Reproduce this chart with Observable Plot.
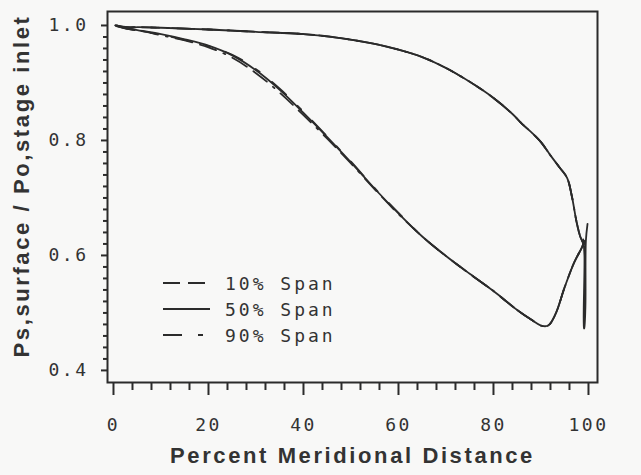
<!DOCTYPE html>
<html>
<head>
<meta charset="utf-8">
<script src="https://cdn.jsdelivr.net/npm/d3@7"></script>
<script src="https://cdn.jsdelivr.net/npm/@observablehq/plot@0.6"></script>
<style>
  html, body { margin: 0; padding: 0; background: #f8f8f7; }
  #wrap { position: relative; width: 641px; height: 475px; overflow: hidden; }
  .plot [aria-label$="tick label"] { font-family: "DejaVu Sans Mono", monospace; font-size: 18px; letter-spacing: 2.5px; fill: #333; }
  .plot [aria-label$="-axis tick"] { stroke-width: 2px; }
  #legend { position: absolute; left: 162px; top: 270px; font-family: "DejaVu Sans Mono", monospace; font-size: 18px; letter-spacing: 3px; color: #333; }
  #legend .row { display: flex; align-items: center; height: 26px; }
  #legend svg { width: 50px; height: 10px; margin-right: 13px; }
</style>
</head>
<body>
<div id="wrap"></div>
<script>
// ---------- data ----------
const spans = ["10% Span", "50% Span", "90% Span"];

// 50% span, suction surface
const sucX50 = [0.4, 2, 5, 10, 15, 20, 25, 30, 35, 40, 45, 50, 55, 60, 65, 70, 75, 80, 85, 88, 90, 91.5, 93, 95, 97, 98.5, 99.2];
const sucY50 = [1.0, 0.996, 0.992, 0.985, 0.976, 0.965, 0.948, 0.922, 0.888, 0.848, 0.806, 0.762, 0.716, 0.673, 0.633, 0.599, 0.568, 0.538, 0.505, 0.488, 0.478, 0.478, 0.497, 0.545, 0.588, 0.612, 0.625];
// 50% span, pressure surface
const preX50 = [0.4, 3, 5, 10, 20, 30, 40, 47, 55, 60, 65, 70, 75, 80, 84, 86, 88, 90, 92, 94, 95.5, 96.5, 97.5, 98.3, 99.0];
const preY50 = [1.0, 0.996, 0.997, 0.996, 0.993, 0.989, 0.985, 0.979, 0.968, 0.958, 0.945, 0.926, 0.902, 0.874, 0.846, 0.829, 0.814, 0.797, 0.774, 0.752, 0.735, 0.703, 0.658, 0.632, 0.620];

// 10% span (nearly coincident with 50%)
const sucX10 = [0.8, 3, 6, 10, 15, 20, 25, 30, 35, 40, 45, 50, 55, 60, 65, 70, 75, 80, 85, 88, 90, 91.5, 93, 95, 97, 98.5, 99.2];
const sucY10 = [1.0, 0.994, 0.990, 0.983, 0.974, 0.962, 0.944, 0.917, 0.883, 0.844, 0.803, 0.760, 0.715, 0.672, 0.633, 0.599, 0.568, 0.538, 0.505, 0.488, 0.478, 0.478, 0.497, 0.545, 0.588, 0.612, 0.625];
const preX10 = [0.8, 3, 5, 10, 20, 30, 40, 47, 55, 60, 65, 70, 75, 80, 84, 86, 88, 90, 92, 94, 95.5, 96.5, 97.5, 98.3, 99.0];
const preY10 = [0.999, 0.997, 0.997, 0.996, 0.993, 0.989, 0.985, 0.979, 0.968, 0.958, 0.945, 0.926, 0.902, 0.874, 0.846, 0.829, 0.814, 0.797, 0.774, 0.752, 0.735, 0.703, 0.658, 0.632, 0.620];

// 90% span (nearly coincident with 50%)
const sucX90 = [0.6, 2.5, 5, 10, 15, 20, 25, 30, 35, 40, 45, 50, 55, 60, 65, 70, 75, 80, 85, 88, 90, 91.5, 93, 95, 97, 98.5, 99.2];
const sucY90 = [0.999, 0.995, 0.991, 0.984, 0.975, 0.964, 0.949, 0.924, 0.890, 0.850, 0.807, 0.763, 0.717, 0.674, 0.633, 0.599, 0.568, 0.538, 0.505, 0.488, 0.478, 0.478, 0.497, 0.545, 0.588, 0.612, 0.625];
const preX90 = [0.6, 3, 5, 10, 20, 30, 40, 47, 55, 60, 65, 70, 75, 80, 84, 86, 88, 90, 92, 94, 95.5, 96.5, 97.5, 98.3, 99.0];
const preY90 = [1.0, 0.997, 0.997, 0.996, 0.993, 0.989, 0.985, 0.979, 0.968, 0.958, 0.945, 0.926, 0.902, 0.874, 0.846, 0.829, 0.814, 0.797, 0.774, 0.752, 0.735, 0.703, 0.658, 0.632, 0.620];

// trailing-edge spike
const spikeX = [98.9, 99.15, 99.05, 99.1, 99.35, 99.45, 99.8];
const spikeY = [0.628, 0.600, 0.473, 0.473, 0.510, 0.625, 0.655];

// ticks
const xMajor = [0, 20, 40, 60, 80, 100];
const xMinor = [4, 8, 12, 16, 24, 28, 32, 36, 44, 48, 52, 56, 64, 68, 72, 76, 84, 88, 92, 96];
const yMajor = [0.4, 0.6, 0.8, 1.0];
const yMinor = [0.42, 0.44, 0.46, 0.48, 0.50, 0.52, 0.54, 0.56, 0.58, 0.62, 0.64, 0.66, 0.68, 0.70, 0.72, 0.74, 0.76, 0.78, 0.82, 0.84, 0.86, 0.88, 0.90, 0.92, 0.94, 0.96, 0.98];

const xTitle = "Percent Meridional Distance";
const yTitle = "Ps,surface / Po,stage inlet";

// ---------- build table ----------
function pts(xs, ys, span, surface) { return xs.map((x, i) => ({x, y: ys[i], span, key: span + surface})); }
const rows = [
  ...pts(sucX50, sucY50, spans[1], "s"), ...pts(preX50, preY50, spans[1], "p"),
  ...pts(spikeX, spikeY, spans[1], "spike"),
];
const rows10 = [...pts(sucX10, sucY10, spans[0], "s"), ...pts(preX10, preY10, spans[0], "p")];
const rows90 = [...pts(sucX90, sucY90, spans[2], "s"), ...pts(preX90, preY90, spans[2], "p")];

const dashes = {"10% Span": "17,8,17,8,2,8", "50% Span": null, "90% Span": "19,16,5,16"};
const ink = "#2b2b2b";

const chart = Plot.plot({
  className: "plot",
  width: 641, height: 475,
  marginLeft: 107, marginRight: 44, marginTop: 11, marginBottom: 93,
  x: {domain: [-1.26, 101.9]},
  y: {domain: [0.379, 1.0243]},
  style: {background: "#f8f8f7", color: "#333", overflow: "visible"},
  marks: [
    Plot.line(rows, {x: "x", y: "y", z: "key", stroke: ink, strokeWidth: 1.8, curve: "catmull-rom"}),
    Plot.line(rows10, {x: "x", y: "y", z: "key", stroke: ink, strokeWidth: 1.8, strokeDasharray: dashes["10% Span"], curve: "catmull-rom"}),
    Plot.line(rows90, {x: "x", y: "y", z: "key", stroke: ink, strokeWidth: 1.8, strokeDasharray: dashes["90% Span"], curve: "catmull-rom"}),
    Plot.frame({stroke: ink, strokeWidth: 2}),
    Plot.axisX(xMajor, {tickSize: 13, tickPadding: 23, tickFormat: d => String(d), label: null, stroke: ink}),
    Plot.axisX(xMinor, {tickSize: 8, tickFormat: () => "", label: null, stroke: ink}),
    Plot.axisY(yMajor, {tickSize: 6, tickPadding: 13, tickFormat: d3.format(".1f"), label: null, stroke: ink}),
    Plot.axisY(yMinor, {tickSize: 4, tickFormat: () => "", label: null, stroke: ink}),
    Plot.text([xTitle], {text: d => d, frameAnchor: "bottom", textAnchor: "middle", lineAnchor: "middle", dy: 73, fontSize: 22, fontWeight: "bold", fontFamily: "Liberation Sans, Arial, sans-serif", fill: "#333"}),
    Plot.text([yTitle], {text: d => d, frameAnchor: "left", textAnchor: "middle", lineAnchor: "middle", rotate: -90, dx: -86, dy: -11, fontSize: 22, fontWeight: "bold", fontFamily: "Liberation Sans, Arial, sans-serif", fill: "#333"})
  ]
});

// widen the axis titles' letter spacing
d3.select(chart).selectAll("text")
  .filter(function () { return this.textContent === xTitle || this.textContent === yTitle; })
  .style("letter-spacing", "2.6px");

const wrap = document.getElementById("wrap");
wrap.appendChild(chart);

// legend
const legend = document.createElement("div");
legend.id = "legend";
for (const s of spans) {
  const row = document.createElement("div");
  row.className = "row";
  const dash = dashes[s] ? `stroke-dasharray="${dashes[s]}"` : "";
  row.innerHTML = `<svg viewBox="0 0 50 10"><line x1="1" y1="5" x2="48" y2="5" stroke="${ink}" stroke-width="1.8" ${dash}/></svg><span>${s}</span>`;
  legend.appendChild(row);
}
wrap.appendChild(legend);
</script>
</body>
</html>
